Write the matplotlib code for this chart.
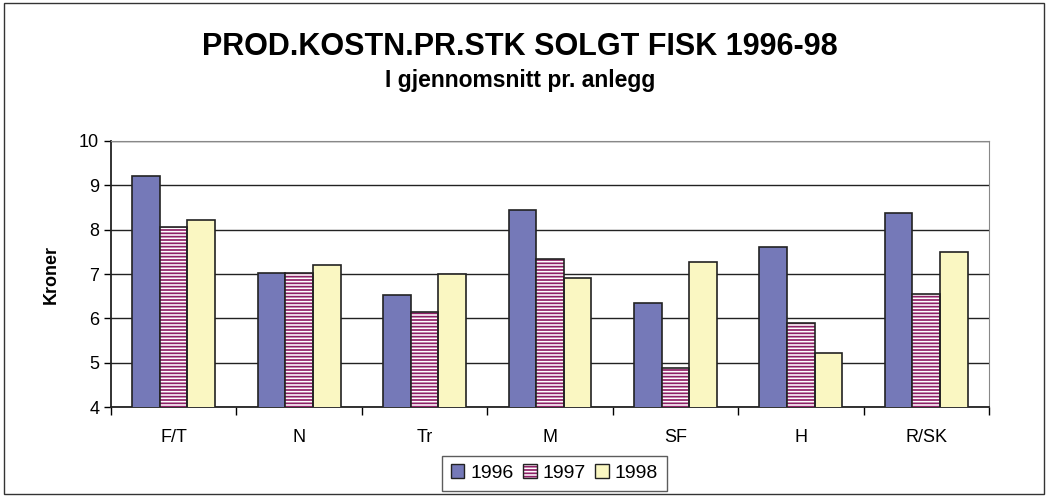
import numpy as np
import matplotlib.pyplot as plt
from matplotlib.patches import Rectangle, Patch

plt.rcParams['font.family'] = ['Liberation Sans', 'DejaVu Sans']
plt.rcParams['hatch.linewidth'] = 1.15

# Data
categories = ['F/T', 'N', 'Tr', 'M', 'SF', 'H', 'R/SK']
v1996 = [9.20, 7.02, 6.52, 8.45, 6.34, 7.61, 8.37]
v1997 = [8.07, 7.02, 6.15, 7.35, 4.89, 5.90, 6.56]
v1998 = [8.22, 7.20, 7.00, 6.92, 7.28, 5.22, 7.50]
years = ['1996', '1997', '1998']

fig = plt.figure(figsize=(10.48, 4.97), dpi=100)
ax = fig.add_axes([0.1059, 0.181, 0.8378, 0.5353])

# frame around whole chart
fig.patches.append(Rectangle((0.004, 0.006), 0.992, 0.988, transform=fig.transFigure,
                             fill=False, edgecolor='#333333', linewidth=1.0))

x = np.arange(len(categories))
w = 0.22
ax.bar(x - w, v1996, w, color='#7579B8', edgecolor='#222222', linewidth=1.2, zorder=3)
# striped bars: white hatch on magenta, then dark outline on top
ax.bar(x, v1997, w, color='#8E1F66', edgecolor='white', linewidth=0,
       hatch='-----', zorder=3)
ax.bar(x, v1997, w, fill=False, edgecolor='#222222', linewidth=1.2, zorder=4)
ax.bar(x + w, v1998, w, color='#FAF7C2', edgecolor='#222222', linewidth=1.2, zorder=3)

h1996 = Patch(facecolor='#7579B8', edgecolor='#222222', linewidth=1.0)
h1997 = (Patch(facecolor='#8E1F66', edgecolor='white', linewidth=0, hatch='-----'),
         Patch(fill=False, edgecolor='#222222', linewidth=1.0))
h1998 = Patch(facecolor='#FAF7C2', edgecolor='#222222', linewidth=1.0)

ax.set_xlim(-0.5, len(categories) - 0.5)
ax.set_ylim(4, 10)
ax.set_yticks(range(4, 11))
ax.yaxis.grid(True, color='#222222', linewidth=1.0, zorder=0)
ax.tick_params(axis='y', labelsize=13, length=5, width=1, direction='out')

ax.set_xticks(np.arange(-0.5, len(categories), 1.0))
ax.set_xticklabels([])
ax.set_xticks(x, minor=True)
ax.set_xticklabels(categories, minor=True)
ax.tick_params(axis='x', which='major', length=6, width=1, direction='out')
ax.tick_params(axis='x', which='minor', length=0, labelsize=13, pad=16)

for s in ['top', 'right']:
    ax.spines[s].set_color('#888888')
for s in ['left', 'bottom']:
    ax.spines[s].set_color('#222222')
    ax.spines[s].set_linewidth(1.3)

ax.set_ylabel('Kroner', fontsize=13, fontweight='bold', labelpad=14)

fig.text(0.496, 0.905, 'PROD.KOSTN.PR.STK SOLGT FISK 1996-98', ha='center', va='center',
         fontsize=22, fontweight='bold')
fig.text(0.496, 0.838, 'I gjennomsnitt pr. anlegg', ha='center', va='center',
         fontsize=16.5, fontweight='bold')

leg = ax.legend([h1996, h1997, h1998], years, loc='center', bbox_to_anchor=(0.529, 0.048),
                bbox_transform=fig.transFigure,
                ncol=3, fontsize=14, frameon=True, fancybox=False, edgecolor='#333333',
                handlelength=0.7, handleheight=0.7, handletextpad=0.3, columnspacing=0.5,
                borderpad=0.45)
leg.get_frame().set_linewidth(1.0)

fig.savefig('out.png', dpi=100)
